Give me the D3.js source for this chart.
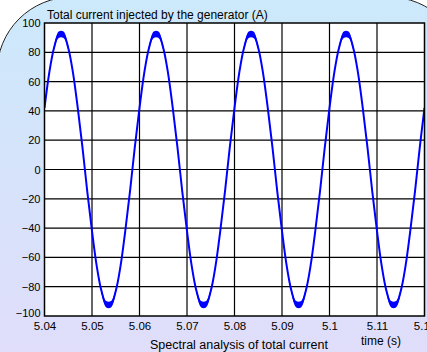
<!DOCTYPE html>
<html>
<head>
<meta charset="utf-8">
<script src="https://cdn.jsdelivr.net/npm/d3@7"></script>
<style>
  html, body { margin: 0; padding: 0; background: #ffffff; }
  svg { display: block; font-family: "Liberation Sans", Arial, sans-serif; }
</style>
</head>
<body>
<svg id="chart" width="427" height="352"></svg>
<script>
// Sampling grid of the recorded current (s)
const sampleStart = 5.040;
const sampleStep = 0.001;

// Generator current (A), one value per sample
const currentValues = [
  42, 66, 83, 92, 92, 83, 66, 42, 15, -15,
  -42, -66, -83, -92, -92, -83, -66, -42, -15, 15,
  42, 66, 83, 92, 92, 83, 66, 42, 15, -15,
  -42, -66, -83, -92, -92, -83, -66, -42, -15, 15,
  42, 66, 83, 92, 92, 83, 66, 42, 15, -15,
  -42, -66, -83, -92, -92, -83, -66, -42, -15, 15,
  42, 66, 83, 92, 92, 83, 66, 42, 15, -15,
  -42, -66, -83, -92, -92, -83, -66, -42, -15, 15,
  42
];

// Switching ripple half-amplitude (A) at each sample
const rippleValues = [
  0.3, 0.8, 1.5, 2.2, 2.2, 1.5, 0.8, 0.3, 0.2, 0.2,
  0.3, 0.8, 1.5, 2.2, 2.2, 1.5, 0.8, 0.3, 0.2, 0.2,
  0.3, 0.8, 1.5, 2.2, 2.2, 1.5, 0.8, 0.3, 0.2, 0.2,
  0.3, 0.8, 1.5, 2.2, 2.2, 1.5, 0.8, 0.3, 0.2, 0.2,
  0.3, 0.8, 1.5, 2.2, 2.2, 1.5, 0.8, 0.3, 0.2, 0.2,
  0.3, 0.8, 1.5, 2.2, 2.2, 1.5, 0.8, 0.3, 0.2, 0.2,
  0.3, 0.8, 1.5, 2.2, 2.2, 1.5, 0.8, 0.3, 0.2, 0.2,
  0.3, 0.8, 1.5, 2.2, 2.2, 1.5, 0.8, 0.3, 0.2, 0.2,
  0.3
];

const xTicks = [5.04, 5.05, 5.06, 5.07, 5.08, 5.09, 5.10, 5.11, 5.12];
const xTickLabels = ["5.04", "5.05", "5.06", "5.07", "5.08", "5.09", "5.1", "5.11", "5.12"];
const yTicks = [100, 80, 60, 40, 20, 0, -20, -40, -60, -80, -100];

const chartTitle = "Total current injected by the generator (A)";
const xTitle = "time (s)";
const nextTitle = "Spectral analysis of total current";

const svg = d3.select("#chart");
const plot = { left: 44.5, right: 424.5, top: 23, bottom: 316 };

// Panel background with rounded corners and a soft blue-to-lavender fade
const defs = svg.append("defs");
const grad = defs.append("linearGradient")
  .attr("id", "panelFade").attr("x1", 0).attr("y1", 0).attr("x2", 0).attr("y2", 1);
grad.append("stop").attr("offset", "0%").attr("stop-color", "#cce9fb");
grad.append("stop").attr("offset", "50%").attr("stop-color", "#d8e2fb");
grad.append("stop").attr("offset", "100%").attr("stop-color", "#e4dcfa");

svg.append("rect")
  .attr("x", -3).attr("y", -3)
  .attr("width", 467).attr("height", 420)
  .attr("rx", 75).attr("ry", 75)
  .attr("fill", "url(#panelFade)")
  .attr("stroke", "#222").attr("stroke-width", 1);

const x = d3.scaleLinear().domain([5.04, 5.12]).range([plot.left, plot.right]);
const y = d3.scaleLinear().domain([-100, 100]).range([plot.bottom, plot.top]);

// Plot area
svg.append("rect")
  .attr("x", plot.left).attr("y", plot.top)
  .attr("width", plot.right - plot.left).attr("height", plot.bottom - plot.top)
  .attr("fill", "#ffffff");

// Grid
const grid = svg.append("g").attr("stroke", "#000").attr("stroke-width", 1.2);
grid.selectAll("line.v").data(xTicks.slice(1, -1)).join("line")
  .attr("x1", d => x(d)).attr("x2", d => x(d))
  .attr("y1", plot.top).attr("y2", plot.bottom);
grid.selectAll("line.h").data(yTicks.slice(1, -1)).join("line")
  .attr("x1", plot.left).attr("x2", plot.right)
  .attr("y1", d => y(d)).attr("y2", d => y(d));

// Current trace
const samples = currentValues.map((v, i) => ({
  t: sampleStart + i * sampleStep, v, r: rippleValues[i]
}));

const clip = defs.append("clipPath").attr("id", "plotClip");
clip.append("rect")
  .attr("x", plot.left).attr("y", plot.top)
  .attr("width", plot.right - plot.left).attr("height", plot.bottom - plot.top);

const traceG = svg.append("g").attr("clip-path", "url(#plotClip)");

const band = d3.area()
  .x(d => x(d.t))
  .y0(d => y(d.v - d.r))
  .y1(d => y(d.v + d.r))
  .curve(d3.curveCatmullRom);
traceG.append("path").datum(samples)
  .attr("d", band)
  .attr("fill", "#0000ff");

const line = d3.line()
  .x(d => x(d.t))
  .y(d => y(d.v))
  .curve(d3.curveCatmullRom);
traceG.append("path").datum(samples)
  .attr("d", line)
  .attr("fill", "none")
  .attr("stroke", "#0000ff")
  .attr("stroke-width", 2);

// Frame
svg.append("rect")
  .attr("x", plot.left).attr("y", plot.top)
  .attr("width", plot.right - plot.left).attr("height", plot.bottom - plot.top)
  .attr("fill", "none").attr("stroke", "#000").attr("stroke-width", 1.5);

// Axis labels
const yAxis = d3.axisLeft(y).tickValues(yTicks).tickSize(0).tickPadding(4);
const yG = svg.append("g").attr("transform", `translate(${plot.left},0)`).call(yAxis);
yG.select(".domain").remove();
yG.selectAll("text")
  .attr("font-size", 11).attr("fill", "#000")
  .attr("font-family", "Liberation Sans, Arial, sans-serif")
  .attr("dy", d => d === -100 ? "0.05em" : "0.32em");

const xAxis = d3.axisBottom(x).tickValues(xTicks)
  .tickFormat((d, i) => xTickLabels[i]).tickSize(0).tickPadding(6);
const xG = svg.append("g").attr("transform", `translate(0,${plot.bottom})`).call(xAxis);
xG.select(".domain").remove();
xG.selectAll("text")
  .attr("font-size", 11.5).attr("fill", "#000")
  .attr("font-family", "Liberation Sans, Arial, sans-serif");

// Titles
svg.append("text")
  .attr("x", 47).attr("y", 19)
  .attr("font-size", 12).attr("fill", "#000")
  .text(chartTitle);

svg.append("text")
  .attr("x", 361).attr("y", 345)
  .attr("font-size", 12).attr("fill", "#000")
  .text(xTitle);

svg.append("text")
  .attr("x", 150).attr("y", 349)
  .attr("font-size", 12.5).attr("fill", "#000")
  .text(nextTitle);
</script>
</body>
</html>
